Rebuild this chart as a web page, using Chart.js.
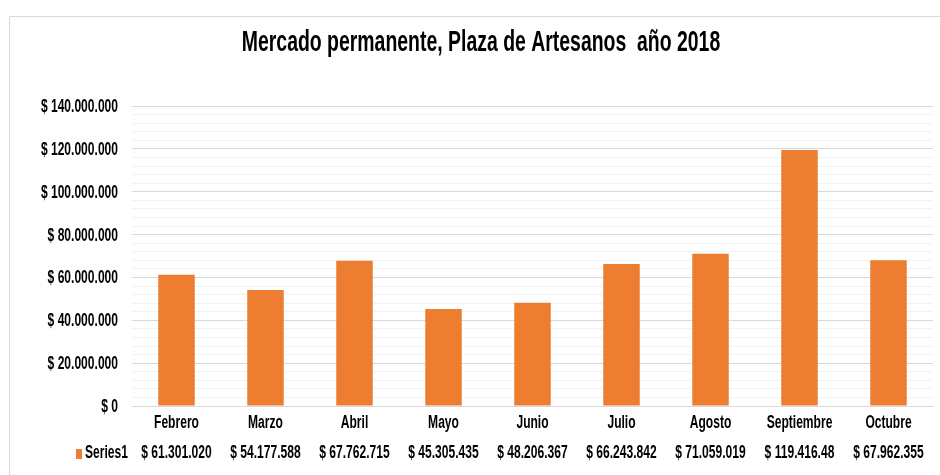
<!DOCTYPE html>
<html>
<head>
<meta charset="utf-8">
<script src="https://cdn.jsdelivr.net/npm/chart.js@4.4.1/dist/chart.umd.min.js"></script>
<style>
    html, body { margin: 0; padding: 0; background: #fff; }
    #wrap { width: 940px; height: 475px; position: relative; }
</style>
</head>
<body>
<div id="wrap"><canvas id="salesChart" width="940" height="475"></canvas></div>
<script>
// data
const months = ["Febrero", "Marzo", "Abril", "Mayo", "Junio", "Julio", "Agosto", "Septiembre", "Octubre"];
const series1 = [61301020, 54177588, 67762715, 45305435, 48206367, 66243842, 71059019, 119416480, 67962355];
const tableLabels = ["$ 61.301.020", "$ 54.177.588", "$ 67.762.715", "$ 45.305.435", "$ 48.206.367",
    "$ 66.243.842", "$ 71.059.019", "$ 119.416.48", "$ 67.962.355"];
const seriesName = "Series1";
const chartTitle = "Mercado permanente, Plaza de Artesanos  año 2018";

const FONT = '"Liberation Sans", Arial, sans-serif';
const NARROW = 0.67; // squashed look of the original
const ORANGE = "#ED7D31";

function money(v) {
    const s = Math.round(v).toString().replace(/\B(?=(\d{3})+(?!\d))/g, ".");
    return "$ " + s;
}

// draw condensed text (no narrow font installed)
function narrowText(c, text, x, y, align) {
    c.save();
    c.translate(x, y);
    c.scale(NARROW, 1);
    c.textAlign = align;
    c.fillText(text, 0, 0);
    c.restore();
}

const tablePlugin = {
    id: "dataTable",
    beforeDraw(chart) {
        const c = chart.ctx;
        c.save();
        c.strokeStyle = "#d9d9d9";
        c.lineWidth = 1;
        c.beginPath();
        c.moveTo(9.5, 475);
        c.lineTo(9.5, 16.5);
        c.lineTo(940, 16.5);
        c.stroke();
        c.restore();
    },
    afterDraw(chart) {
        const c = chart.ctx;
        const x = chart.scales.x;
        const y = chart.scales.y;
        c.save();
        c.fillStyle = "#000";
        c.textBaseline = "middle";

        // title
        c.font = "bold 29px " + FONT;
        narrowText(c, chartTitle, 481, 43, "center");

        // y axis labels
        c.font = "bold 18px " + FONT;
        y.ticks.forEach(t => {
            if (t.value % 20000000 !== 0) return;
            narrowText(c, money(t.value), 118, y.getPixelForValue(t.value) + 1, "right");
        });

        // data table
        months.forEach((m, i) => {
            const px = x.getPixelForValue(i);
            narrowText(c, m, px, 423, "center");
            narrowText(c, tableLabels[i], px, 453, "center");
        });

        // legend key
        c.fillStyle = ORANGE;
        c.fillRect(76, 449, 6, 10);
        c.fillStyle = "#000";
        narrowText(c, seriesName, 85, 453, "left");
        c.restore();
    }
};

new Chart(document.getElementById("salesChart"), {
    type: "bar",
    data: {
        labels: months,
        datasets: [{
            label: seriesName,
            data: series1,
            backgroundColor: ORANGE,
            borderWidth: 0,
            categoryPercentage: 1,
            barPercentage: 0.41
        }]
    },
    options: {
        responsive: false,
        animation: false,
        layout: { padding: { left: 0, right: 7, top: 106, bottom: 0 } },
        plugins: {
            legend: { display: false },
            tooltip: { enabled: false },
            title: { display: false }
        },
        scales: {
            x: {
                grid: { display: false },
                border: { display: true, color: "#d9d9d9" },
                ticks: { display: false },
                afterFit(scale) { scale.height = 69; }
            },
            y: {
                min: 0,
                max: 140000000,
                border: { display: false },
                grid: {
                    drawTicks: false,
                    color: ctx => (ctx.tick && ctx.tick.value % 20000000 === 0) ? "#d9d9d9" : "#f2f2f2"
                },
                ticks: {
                    stepSize: 4000000,
                    autoSkip: false,
                    display: false
                },
                afterFit(scale) { scale.width = 132; }
            }
        }
    },
    plugins: [tablePlugin]
});
</script>
</body>
</html>
